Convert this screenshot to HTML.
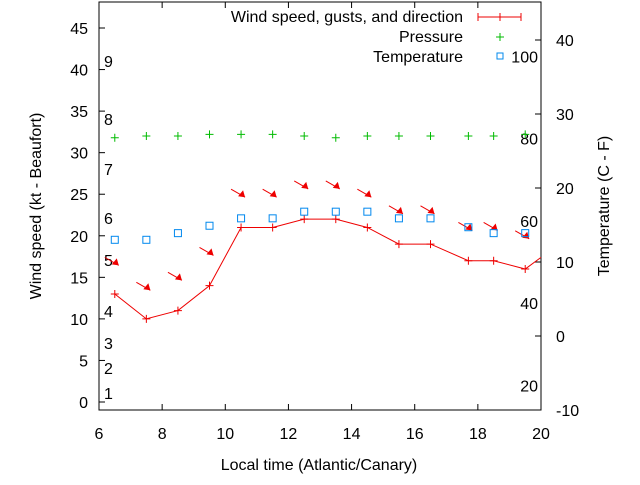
<!DOCTYPE html>
<html><head><meta charset="utf-8"><style>
body{margin:0;background:#fff}
svg text{font-family:"Liberation Sans",sans-serif;font-size:16px;fill:#000}
</style></head><body>
<svg width="640" height="480" viewBox="0 0 640 480">
<g id="axes"></g><g id="marks"></g>
</svg>
<script>
const times=[6.5,7.5,8.5,9.5,10.5,11.5,12.5,13.5,14.5,15.5,16.5,17.7,18.5,19.5];
const wind=[13,10,11,14,21,21,22,22,21,19,19,17,17,16];
const windEnd=17.4;
const gusts=[16.8,13.8,15,18,25,25,26,26,25,23,23,21,21,20];
const pressure=[31.8,32,32,32.2,32.2,32.2,32,31.8,32,32,32,32,32,32.2];
const temperature=[13,13,13.9,14.9,15.9,15.9,16.8,16.8,16.8,15.9,15.9,14.7,13.9,13.9];
const xTicks=[6,8,10,12,14,16,18,20];
const yTicks=[0,5,10,15,20,25,30,35,40,45];
const y2Ticks=[-10,0,10,20,30,40];
const beaufort=[[1,1],[2,2],[3,3],[4,4],[5,5],[6,6],[7,7],[8,8],[9,9]];
const beaufortY=[393,368,343,311,260,218,169,119,61];
const fahrenheit=[100,80,60,40,20];
const NS="http://www.w3.org/2000/svg";
const L=99,R=541,T=2,B=410;
const X=v=>L+(v-6)*(R-L)/14;
const Y=v=>402-v*8.311;
const Y2=v=>336-v*7.4;
const F2C=f=>(f-32)*5/9;
function mk(p,t,a,txt){const e=document.createElementNS(NS,t);for(const k in a)e.setAttribute(k,a[k]);if(txt!==undefined)e.textContent=txt;p.appendChild(e);return e;}
const ax=document.getElementById('axes'),mg=document.getElementById('marks');
const frame=mk(ax,'rect',{x:L,y:T,width:R-L,height:B-T,fill:'none',stroke:'#000','stroke-width':1});


xTicks.forEach(v=>{
 mk(ax,'line',{x1:X(v),x2:X(v),y1:B,y2:B-6,stroke:'#000'});
 mk(ax,'line',{x1:X(v),x2:X(v),y1:T,y2:T+6,stroke:'#000'});
 const t=mk(ax,'text',{x:X(v),y:B+29,'text-anchor':'middle'},v);
 
 
});
yTicks.forEach(v=>{
 mk(ax,'line',{x1:L,x2:L+6,y1:Y(v),y2:Y(v),stroke:'#000'});
 const t=mk(ax,'text',{x:88,y:Y(v)+6,'text-anchor':'end'},v);
 
 
});
y2Ticks.forEach(v=>{
 mk(ax,'line',{x1:R,x2:R-6,y1:Y2(v),y2:Y2(v),stroke:'#000'});
 const t=mk(ax,'text',{x:556,y:Y2(v)+6},v);
 
 
});
beaufort.forEach((b,i)=>{
 const t=mk(ax,'text',{x:104,y:beaufortY[i]+6},b[1]);
 
 
});
fahrenheit.forEach(f=>{
 const t=mk(ax,'text',{x:538,y:Y2(F2C(f))+6,'text-anchor':'end'},f);
 
 
});
let t=mk(ax,'text',{x:319,y:470,'text-anchor':'middle'},'Local time (Atlantic/Canary)');

t=mk(ax,'text',{x:0,y:0,'text-anchor':'middle',transform:'translate(41,206) rotate(-90)'},'Wind speed (kt - Beaufort)');

t=mk(ax,'text',{x:0,y:0,'text-anchor':'middle',transform:'translate(609,206) rotate(-90)'},'Temperature (C - F)');

// legend
t=mk(ax,'text',{x:463,y:22,'text-anchor':'end'},'Wind speed, gusts, and direction');

mk(ax,'line',{x1:478,x2:521,y1:17,y2:17,stroke:'#e00'});
mk(ax,'line',{x1:478,x2:478,y1:13,y2:21,stroke:'#e00'});
mk(ax,'line',{x1:521,x2:521,y1:13,y2:21,stroke:'#e00'});
mk(ax,'line',{x1:500,x2:500,y1:13,y2:21,stroke:'#e00'});
t=mk(ax,'text',{x:463,y:42,'text-anchor':'end'},'Pressure');

mk(ax,'path',{d:'M496,37h8M500,33v8',stroke:'#0b0'});
t=mk(ax,'text',{x:463,y:62,'text-anchor':'end'},'Temperature');

mk(ax,'rect',{x:497,y:53,width:6,height:6,fill:'none',stroke:'#08e'});
// wind line
const pts=times.map((x,i)=>X(x)+','+Y(wind[i])).concat([X(20)+','+Y(windEnd)]);
const wl=mk(mg,'polyline',{points:pts.join(' '),fill:'none',stroke:'#e00'});


times.forEach((x,i)=>{
 const m=mk(mg,'path',{d:`M${X(x)-4},${Y(wind[i])}h8M${X(x)},${Y(wind[i])-4}v8`,stroke:'#e00'});
 
 
 const gx=X(x)+4,gy=Y(gusts[i])+3;
 const a=mk(mg,'g',{});
 
 
 mk(a,'line',{x1:gx-14,y1:gy-8,x2:gx,y2:gy,stroke:'#e00'});
 mk(a,'polygon',{points:`${gx},${gy} ${gx-7},${gy-1} ${gx-2},${gy-7}`,fill:'#e00'});
 const p=mk(mg,'path',{d:`M${X(x)-4},${Y(pressure[i])}h8M${X(x)},${Y(pressure[i])-4}v8`,stroke:'#0b0'});
 
 
 const s=mk(mg,'rect',{x:X(x)-3.5,y:Y2(temperature[i])-3.5,width:7,height:7,fill:'none',stroke:'#08e'});
 
 
});
</script>
</body></html>
